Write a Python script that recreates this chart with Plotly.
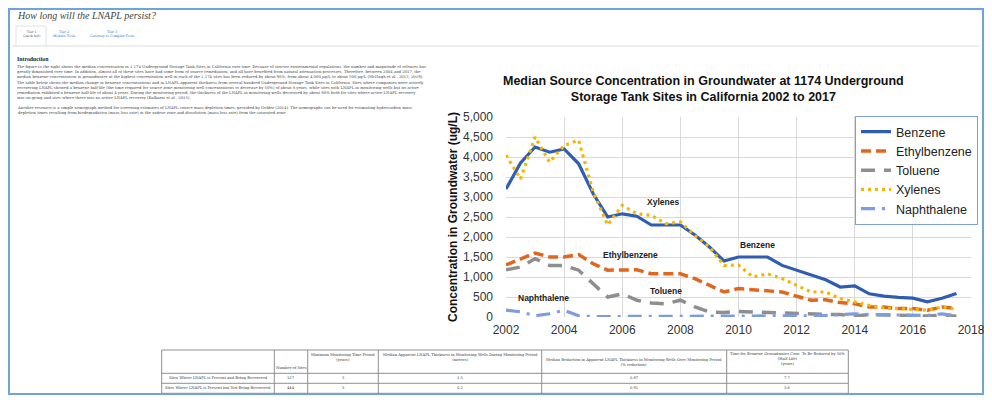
import plotly.graph_objects as go

# ---------------- data ----------------
years = [2002, 2002.5, 2003, 2003.5, 2004, 2004.5, 2005, 2005.5, 2006, 2006.5,
         2007, 2007.5, 2008, 2008.5, 2009, 2009.5, 2010, 2010.5, 2011, 2011.5,
         2012, 2012.5, 2013, 2013.5, 2014, 2014.5, 2015, 2015.5, 2016, 2016.5,
         2017, 2017.5]
benzene = [3200, 3850, 4250, 4120, 4200, 3830, 3080, 2500, 2580, 2520,
           2300, 2300, 2300, 2050, 1750, 1400, 1500, 1500, 1500, 1290,
           1170, 1060, 930, 750, 780, 580, 520, 490, 470, 380, 470, 590]
ethylbenzene = [1300, 1460, 1600, 1500, 1500, 1560, 1330, 1170, 1180, 1180,
                1080, 1080, 1080, 960, 790, 625, 710, 680, 670, 625,
                520, 420, 430, 360, 330, 250, 250, 210, 210, 170, 250, 210]
toluene = [1180, 1250, 1460, 1290, 1290, 1170, 830, 500, 580, 420,
           350, 330, 420, 250, 125, 110, 140, 125, 125, 110,
           80, 65, 65, 65, 25, 60, 50, 25, 25, 25, 40, 20]
xylenes = [4050, 3450, 4500, 3870, 4290, 4420, 3125, 2300, 2790, 2580,
           2540, 2330, 2375, 2040, 1750, 1290, 1300, 1000, 1080, 960,
           790, 625, 625, 460, 375, 290, 230, 210, 190, 170, 250, 190]
naphthalene = [170, 130, 30, 80, 170, 30, 10, 10, 10, 10,
               10, 10, 10, 10, 10, 10, 20, 20, 20, 20,
               30, 30, 40, 60, 80, 60, 50, 40, 50, 40, 80, 30]

series_names = ["Benzene", "Ethylbenzene", "Toluene", "Xylenes", "Naphthalene"]
x_ticks = [2002, 2004, 2006, 2008, 2010, 2012, 2014, 2016, 2018]
y_ticks = [0, 500, 1000, 1500, 2000, 2500, 3000, 3500, 4000, 4500, 5000]

# in-plot labels (text, year, value)
label_text = ["Xylenes", "Ethylbenzene", "Toluene", "Naphthalene", "Benzene"]
label_x = [2007.4, 2006.3, 2007.5, 2003.3, 2010.65]
label_y = [2870, 1540, 640, 475, 1790]

# table
table_header = ["",
                "Number of Sites",
                "Minimum Monitoring Time Period<br>(years)",
                "Median Apparent LNAPL Thickness in Monitoring Wells During Monitoring Period<br>(meters)",
                "Median Reduction in Apparent LNAPL Thickness in Monitoring Wells Over Monitoring Period<br>(% reduction)",
                "Time for Benzene Groundwater Conc. To Be Reduced by 50%<br>(Half Life)<br>(years)"]
row_labels = ["Sites Where LNAPL is Present and Being Recovered",
              "Sites Where LNAPL is Present but Not Being Recovered"]
num_sites = ["127", "444"]
min_period = ["3", "3"]
thickness = ["1.5", "0.2"]
reduction = ["0.87", "0.91"]
half_life = ["7.7", "3.6"]

# page texts
page_title = "How long will the LNAPL persist?"
tabs = [("Tier 1", "Quick Info"), ("Tier 2", "Module Tools"), ("Tier 3", "Gateway to Complex Tools")]
intro_paragraphs = [
    ["The figure to the right shows the median concentration in 1,174 Underground Storage Tank Sites in California over time. Because of stricter environmental regulations, the number and magnitude of releases has",
     "greatly diminished over time. In addition, almost all of these sites have had some form of source remediation, and all have benefited from natural attenuation processes. Therefore, between 2004 and 2017, the",
     "median benzene concentration in groundwater at the highest concentration well in each of the 1,174 sites has been reduced by about 90%, from about 4,000 µg/L to about 500 µg/L (McHugh et al., 2013, 2019)."],
    ["The table below shows the median change in benzene concentrations and in LNAPL apparent thickness from several hundred Underground Storage Tank Sites in California. Sites where companies were actively",
     "recovering LNAPL showed a benzene half-life (the time required for source zone monitoring well concentrations to decrease by 50%) of about 8 years, while sites with LNAPL in monitoring wells but no active",
     "remediation exhibited a benzene half-life of about 4 years. During the monitoring period, the thickness of the LNAPL in monitoring wells decreased by about 90% both for sites where active LNAPL recovery",
     "was on-going and sites where there was no active LNAPL recovery (Kulkarni et al., 2015)."],
    ["Another resource is a simple nomograph method for screening estimates of LNAPL source mass depletion times, provided by Golder (2014). The nomographs can be used for estimating hydrocarbon mass",
     "depletion times resulting from biodegradation (mass loss rate) in the vadose zone and dissolution (mass loss rate) from the saturated zone."],
]

# ---------------- layout helpers (page pixel coords -> paper) ----------------
OFF = 8                      # default body margin of the html page
W, H = 976, 387              # figure size so that the page does not overflow
def px(x):
    return (x - OFF) / W
def py(y):
    return 1 - (y - OFF) / H

fig = go.Figure()

styles = [
    dict(color="#2F5DB3", width=3.2, dash="solid"),
    dict(color="#E2661E", width=3.5, dash="10px,5px"),
    dict(color="#8E8E8E", width=3.5, dash="14px,9px"),
    dict(color="#F2B705", width=3.2, dash="3px,4px"),
    dict(color="#7D9DE0", width=3.2, dash="14px,7px,3px,7px"),
]
for name, vals, st in zip(series_names, [benzene, ethylbenzene, toluene, xylenes, naphthalene], styles):
    fig.add_trace(go.Scatter(x=years, y=vals, mode="lines", name=name, line=st))

annotations = []
shapes = []

def add_text(text, x, y, size, family="DejaVu Serif", color="#333", xanchor="center", **kw):
    annotations.append(dict(xref="paper", yref="paper", x=px(x), y=py(y), xanchor=xanchor,
                            yanchor="middle", text=text, showarrow=False, borderpad=0,
                            font=dict(family=family, size=size, color=color), **kw))

def add_line(x0, y0, x1, y1, color, width=1):
    shapes.append(dict(type="line", xref="paper", yref="paper", x0=px(x0), x1=px(x1),
                       y0=py(y0), y1=py(y1), line=dict(color=color, width=width), layer="below"))

# ---- chart texts ----
add_text("<b>Median Source Concentration in Groundwater at 1174 Underground<br>Storage Tank Sites in California 2002 to 2017</b>",
         703, 89, 12.5, family="Liberation Sans", color="#111")
add_text("<b>Concentration in Groundwater (ug/L)</b>", 453, 217, 12, family="Liberation Sans",
         color="#111", textangle=-90)
for t, lx, ly in zip(label_text, label_x, label_y):
    annotations.append(dict(xref="x", yref="y", x=lx, y=ly, text="<b>%s</b>" % t, showarrow=False,
                            bgcolor="white" if t == "Benzene" else "rgba(0,0,0,0)",
                            font=dict(family="Liberation Sans", size=8.5, color="#222")))

# ---- page header ----
add_text("<i>%s</i>" % page_title, 16, 16, 10, family="Liberation Serif", color="#444", xanchor="left")
tab_x = [31, 64, 112]
for i, ((a, b), tx) in enumerate(zip(tabs, tab_x)):
    add_text("%s<br>%s" % (a, b), tx, 33.5, 3.3, color="#555" if i == 0 else "#2a6fc0")
add_line(12, 46, 980, 46, "#dcdcdc")
add_line(16, 26, 16, 46, "#e2e2e2")
add_line(46, 26, 46, 46, "#e2e2e2")
add_line(16, 26, 46, 26, "#e2e2e2")

# ---- introduction ----
add_text("<b>Introduction</b>", 16, 59.5, 5.8, family="Liberation Serif", color="#222", xanchor="left")
para_y = [71.2, 89.8, 110.3]
for lines, yy in zip(intro_paragraphs, para_y):
    add_text("<br>".join(lines), 16, yy, 3.8, color="#444", xanchor="left", align="left")

# ---- table ----
col_edges = [161.7, 274.3, 307.7, 378.3, 541.7, 726.7, 848.3]
row_edges = [350.0, 373.3, 383.3, 393.3]
for xe in col_edges:
    add_line(xe, row_edges[0], xe, row_edges[-1], "#8f8f8f", 1)
for ye in row_edges:
    add_line(col_edges[0], ye, col_edges[-1], ye, "#8f8f8f", 1)
col_c = [(a + b) / 2 for a, b in zip(col_edges[:-1], col_edges[1:])]
header_y = [361.7, 367.5, 357.2, 357.2, 362.5, 359.3]
for t, cx, hy in zip(table_header, col_c, header_y):
    if t:
        add_text(t, cx, hy, 3.7)
row_y = [378.4, 388.4]
for r in range(2):
    vals = [row_labels[r], num_sites[r], min_period[r], thickness[r], reduction[r], half_life[r]]
    for v, cx in zip(vals, col_c):
        add_text(v, cx, row_y[r], 3.7)

# ---- page frame ----
shapes.append(dict(type="rect", xref="paper", yref="paper", x0=px(9), x1=px(983), y0=py(394), y1=py(9),
                   line=dict(color="#6fa3db", width=2), layer="below"))

fig.update_layout(
    width=W, height=H, autosize=False,
    margin=dict(l=0, r=0, t=0, b=0, pad=0),
    paper_bgcolor="white", plot_bgcolor="white",
    annotations=annotations, shapes=shapes,
    xaxis=dict(domain=[px(506), px(971)], range=[2002, 2018], tickvals=x_ticks,
               showgrid=True, gridcolor="#d9d9d9", gridwidth=1, zeroline=False,
               showline=False, ticks="", ticklabelstandoff=4, automargin=False,
               ticklabeloverflow="allow",
               tickfont=dict(family="Liberation Sans", size=12, color="#333")),
    yaxis=dict(domain=[py(317), py(117)], range=[0, 5000], tickvals=y_ticks,
               tickformat=",d", showgrid=True, gridcolor="#d9d9d9", gridwidth=1,
               zeroline=False, showline=False, ticks="", ticklabelstandoff=12, automargin=False,
               tickfont=dict(family="Liberation Sans", size=12, color="#333")),
    legend=dict(x=px(855), y=py(116), xanchor="left", yanchor="top",
                bgcolor="white", bordercolor="#7f9fd8", borderwidth=1,
                font=dict(family="Liberation Sans", size=12.5, color="#222"),
                tracegroupgap=0, itemwidth=30),
    showlegend=True,
)

fig.write_html("out.html")
